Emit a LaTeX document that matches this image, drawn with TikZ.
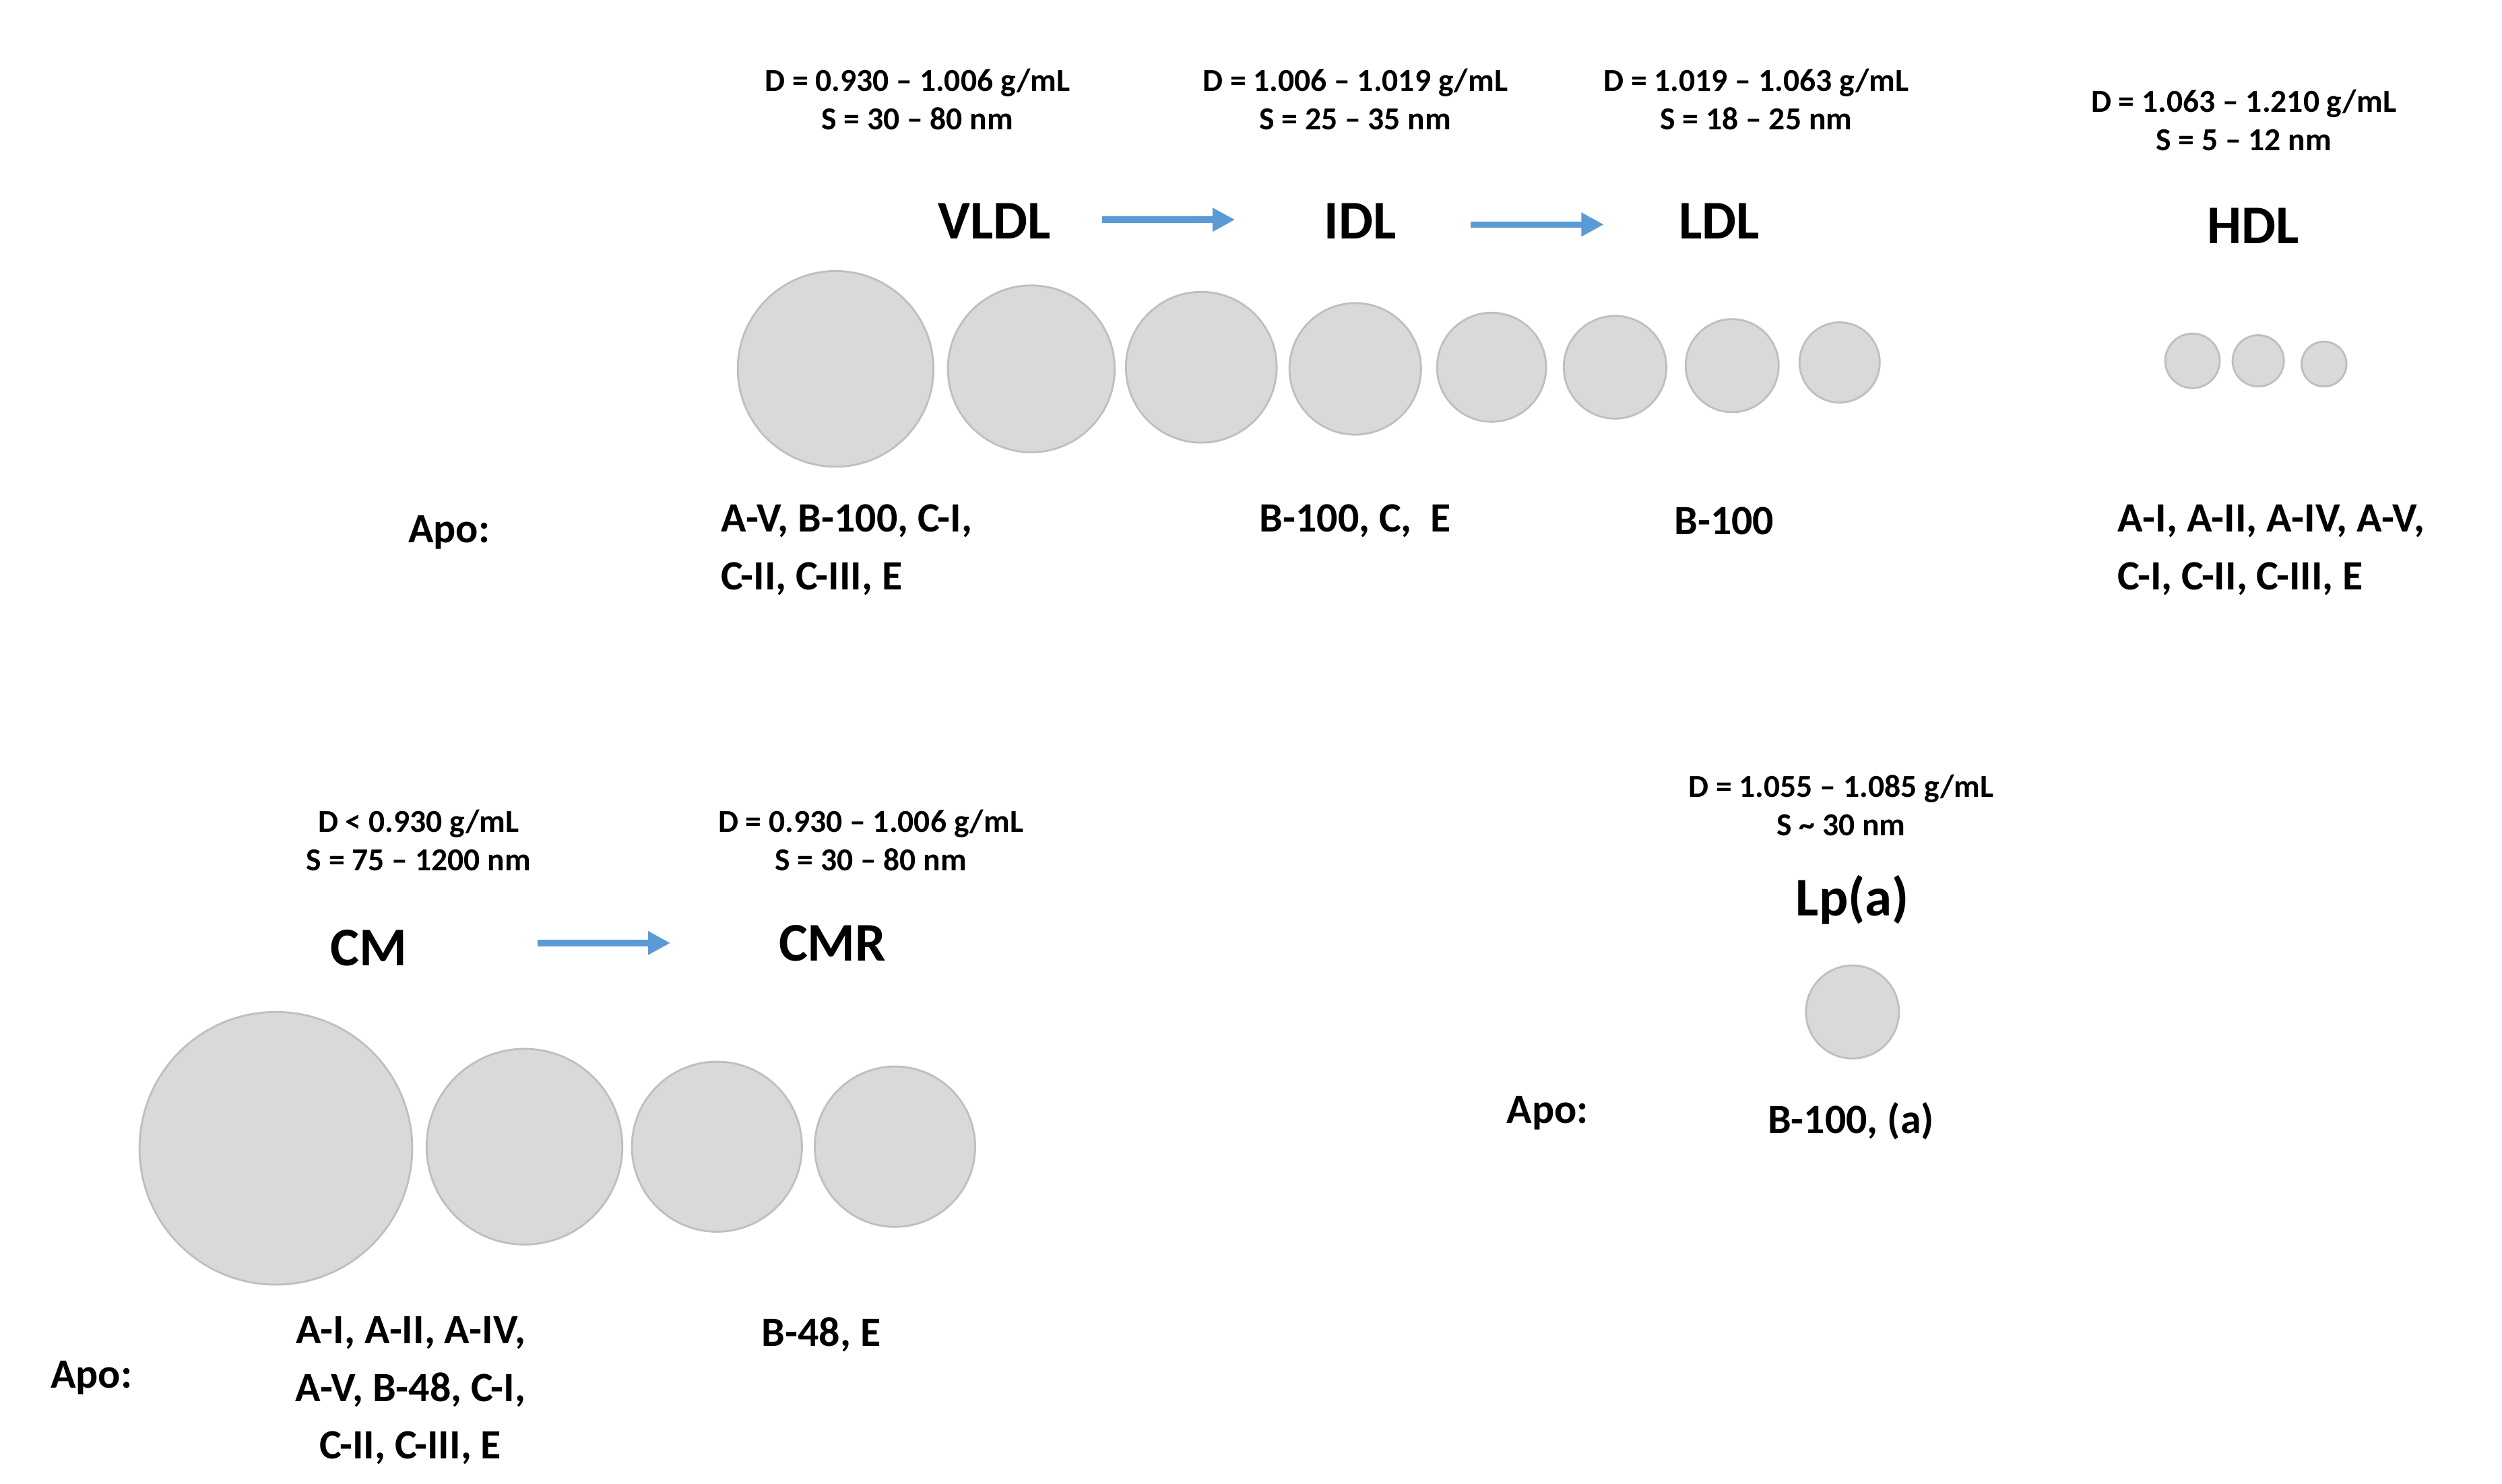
\documentclass[tikz,border=0pt]{standalone}
\usepackage{fontspec}
\setmainfont{Carlito}
\usetikzlibrary{arrows.meta}
\definecolor{ball}{HTML}{D9D9D9}
\definecolor{ballline}{HTML}{BFBFBF}
\definecolor{arr}{HTML}{5B9BD5}
\tikzset{
 small/.style={font=\fontsize{20}{24}\selectfont\bfseries, align=center},
 big/.style={font=\fontsize{34}{40}\selectfont\bfseries},
 apo/.style={font=\fontsize{26}{36}\selectfont\bfseries},
 part/.style={fill=ball, draw=ballline, line width=1.2pt},
 conv/.style={draw=arr, line width=4pt, -{Triangle[length=14pt,width=14pt]}}
}
\begin{document}
\begin{tikzpicture}[x=1pt,y=-1pt]
\useasboundingbox (0,0) rectangle (1560,925);
% top row texts
\node[small] at (572,62) {D = 0.930 – 1.006 g/mL\\S = 30 – 80 nm};
\node[small] at (845,62) {D = 1.006 – 1.019 g/mL\\S = 25 – 35 nm};
\node[small] at (1095,62) {D = 1.019 – 1.063 g/mL\\S = 18 – 25 nm};
\node[small] at (1399,75) {D = 1.063 – 1.210 g/mL\\S = 5 – 12 nm};
\node[big] (vldl) at (620,138) {VLDL};
\node[big] (idl) at (848,138) {IDL};
\node[big] (ldl) at (1072,138) {LDL};
\node[big] (hdl) at (1405,141) {HDL};
\coordinate (a1) at (687,137); \coordinate (a2) at (770,137);
\coordinate (b1) at (917,140); \coordinate (b2) at (1000,140);
\draw[conv] (a1) -- (a2);
\draw[conv] (b1) -- (b2);
\foreach \x/\y/\r [count=\i] in {521/230/61,643/230/52,749/229/47,845/230/41,930/229/34,1007/229/32,1080/228/29,1147/226/25,1367/225/17,1408/225/16,1449/227/14}
 \node[part, circle, minimum size=2*\r pt, inner sep=0pt] (p\i) at (\x,\y) {};
\node[apo] at (280,332) {Apo:};
\node[apo, anchor=west, align=left] at (446,343) {A-V, B-100, C-I,\\C-II, C-III, E};
\node[apo] at (845,325) {B-100, C,\ \ E};
\node[apo] at (1075,325) {B-100};
\node[apo, anchor=west, align=left] at (1317,343) {A-I, A-II, A-IV, A-V,\\C-I, C-II, C-III, E};
% CM row
\node[small] at (261,524) {D < 0.930 g/mL\\S = 75 – 1200 nm};
\node[small] at (543,524) {D = 0.930 – 1.006 g/mL\\S = 30 – 80 nm};
\node[big] (cm) at (230,591) {CM};
\node[big] (cmr) at (519,588) {CMR};
\coordinate (c1) at (335,588); \coordinate (c2) at (418,588);
\draw[conv] (c1) -- (c2);
\foreach \x/\y/\r [count=\i] in {172/716/85,327/715/61,447/715/53,558/715/50}
 \node[part, circle, minimum size=2*\r pt, inner sep=0pt] (q\i) at (\x,\y) {};
\node[apo] at (57,859) {Apo:};
\node[apo, align=center] at (256,867) {A-I, A-II, A-IV,\\A-V, B-48, C-I,\\C-II, C-III, E};
\node[apo] at (512,832) {B-48, E};
% Lp(a)
\node[small] at (1148,502) {D = 1.055 – 1.085 g/mL\\S \textasciitilde\ 30 nm};
\node[big] (lpa) at (1155,561) {Lp(a)};
\node[part, circle, minimum size=58pt, inner sep=0pt] (r1) at (1155,631) {};
\node[apo] at (965,694) {Apo:};
\node[apo] at (1154,699) {B-100, (a)};
\end{tikzpicture}
\end{document}
